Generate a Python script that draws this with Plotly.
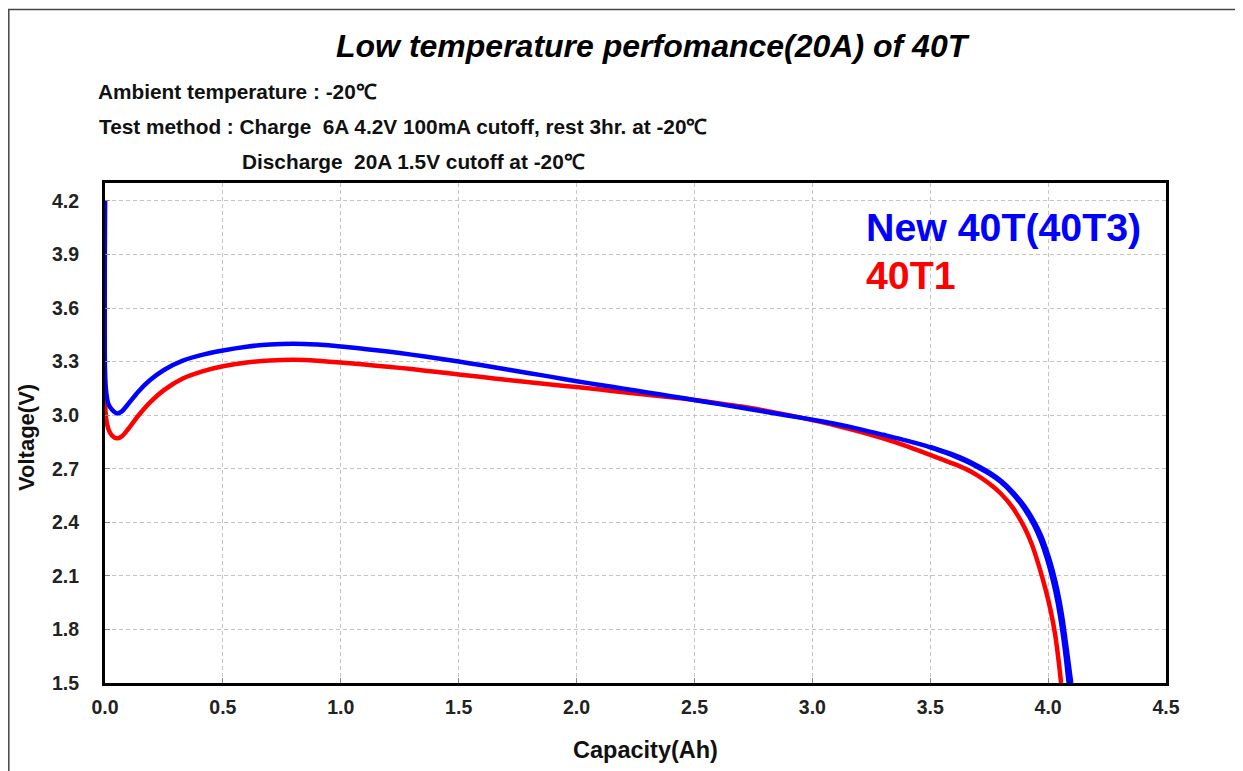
import plotly.graph_objects as go

# ---------------- data ----------------
blue_x = [0.0, 0.0, 0.005, 0.015, 0.03, 0.05, 0.07, 0.1, 0.14, 0.19, 0.25, 0.33, 0.42, 0.5,
          0.6, 0.7, 0.8, 0.9, 1.0, 1.1, 1.2, 1.3, 1.4, 1.5, 1.6, 1.7, 1.8, 1.9, 2.0,
          2.1, 2.2, 2.3, 2.4, 2.5, 2.6, 2.7, 2.8, 2.9, 3.0, 3.1, 3.2, 3.3, 3.4, 3.5,
          3.55, 3.6, 3.65, 3.7, 3.75, 3.8, 3.85, 3.9, 3.94, 3.97, 4.0, 4.02, 4.04, 4.06,
          4.075, 4.087]
blue_y = [4.2, 3.25, 3.13, 3.06, 3.03, 3.01, 3.02, 3.065, 3.13, 3.195, 3.253, 3.305, 3.34, 3.362,
          3.383, 3.396, 3.400, 3.395, 3.385, 3.371, 3.356, 3.339, 3.320, 3.300, 3.279, 3.257, 3.235, 3.213, 3.190,
          3.169, 3.148, 3.127, 3.106, 3.085, 3.063, 3.041, 3.019, 2.997, 2.975, 2.950, 2.922, 2.890, 2.857, 2.820,
          2.797, 2.772, 2.743, 2.710, 2.672, 2.625, 2.560, 2.475, 2.385, 2.295, 2.175, 2.075, 1.955, 1.795,
          1.645, 1.5]

# second blue sample (overlaps in the body, separates slightly in the tail)
blue2_x = [3.5, 3.55, 3.6, 3.65, 3.7, 3.75, 3.8, 3.85, 3.9, 3.94, 3.97, 4.0, 4.02, 4.04, 4.06, 4.08, 4.098]
blue2_y = [2.823, 2.80, 2.777, 2.75, 2.717, 2.68, 2.633, 2.57, 2.49, 2.405, 2.325, 2.215, 2.125, 2.015,
           1.87, 1.68, 1.5]

red_x = [0.0, 0.0, 0.005, 0.015, 0.03, 0.05, 0.07, 0.1, 0.14, 0.19, 0.25, 0.33, 0.42, 0.5,
         0.6, 0.7, 0.8, 0.9, 1.0, 1.1, 1.2, 1.3, 1.4, 1.5, 1.6, 1.7, 1.8, 1.9, 2.0,
         2.1, 2.2, 2.3, 2.4, 2.5, 2.6, 2.7, 2.8, 2.9, 3.0, 3.1, 3.2, 3.3, 3.4, 3.5,
         3.55, 3.6, 3.65, 3.7, 3.75, 3.8, 3.85, 3.9, 3.93, 3.96, 3.99, 4.01, 4.03, 4.045, 4.055]
red_y = [4.2, 3.1, 2.98, 2.92, 2.885, 2.87, 2.88, 2.925, 2.995, 3.07, 3.14, 3.205, 3.248, 3.274,
         3.295, 3.306, 3.310, 3.305, 3.295, 3.283, 3.271, 3.258, 3.243, 3.228, 3.213, 3.198, 3.184, 3.170, 3.157,
         3.143, 3.128, 3.114, 3.100, 3.085, 3.067, 3.048, 3.025, 3.000, 2.972, 2.942, 2.908, 2.870, 2.827, 2.777,
         2.752, 2.727, 2.699, 2.663, 2.617, 2.560, 2.482, 2.370, 2.280, 2.160, 2.020, 1.910, 1.770, 1.620, 1.5]

x_ticks = [0.0, 0.5, 1.0, 1.5, 2.0, 2.5, 3.0, 3.5, 4.0, 4.5]
y_ticks = [1.5, 1.8, 2.1, 2.4, 2.7, 3.0, 3.3, 3.6, 3.9, 4.2]

title_text = "Low temperature perfomance(20A) of 40T"
note_lines = ["Ambient temperature : -20℃",
              "Test method : Charge  6A 4.2V 100mA cutoff, rest 3hr. at -20℃",
              "Discharge  20A 1.5V cutoff at -20℃"]
series_names = ["New 40T(40T3)", "40T1"]

# ---------------- figure ----------------
OFF = 8                      # page body margin
W, H = 1243 - OFF, 771 - OFF
PL, PR, PT, PB = 105, 1166, 183, 683   # plot area in page pixels
FONT = "Arial, Liberation Sans, sans-serif"

def px(xp):
    return (xp - PL) / (PR - PL)

def py(yp):
    return (PB - yp) / (PB - PT)

fig = go.Figure()
line_style = dict(width=4.5, shape="spline", smoothing=0.8)
fig.add_trace(go.Scatter(x=red_x, y=red_y, mode="lines", name=series_names[1],
                         line=dict(color="#ff0000", **line_style)))
fig.add_trace(go.Scatter(x=blue2_x, y=blue2_y, mode="lines", showlegend=False,
                         line=dict(color="#0000ff", **line_style)))
fig.add_trace(go.Scatter(x=blue_x, y=blue_y, mode="lines", name=series_names[0],
                         line=dict(color="#0000ff", **line_style)))

axis_common = dict(showline=True, linecolor="black", linewidth=3, mirror=True,
                   showgrid=True, gridcolor="#c4c4c4", griddash="4px,3px", gridwidth=1,
                   ticks="inside", ticklen=5, tickcolor="#888888", zeroline=False,
                   tickfont=dict(family=FONT, size=19.5, color="#222", weight="bold"))

fig.update_xaxes(range=[0, 4.5], tickvals=x_ticks, ticktext=[f"{v:.1f}" for v in x_ticks],
                 ticklabelstandoff=5, **axis_common)
fig.update_yaxes(range=[1.5, 4.3], tickvals=y_ticks, ticktext=[f"{v:.1f}" for v in y_ticks],
                 ticklabelstandoff=19, **axis_common)

ann = []
ann.append(dict(text=f"<b><i>{title_text}</i></b>", x=px(653), y=py(46), xref="paper", yref="paper",
                showarrow=False, font=dict(family=FONT, size=32, color="black"),
                xanchor="center", yanchor="middle"))
for txt, xl, yc in zip(note_lines, [96, 97, 240], [91, 127, 162]):
    ann.append(dict(text=f"<b>{txt}</b>", x=px(xl), y=py(yc), xref="paper", yref="paper",
                    showarrow=False, font=dict(family=FONT, size=20.8, color="#111"),
                    xanchor="left", yanchor="middle"))
ann.append(dict(text=f"<b>{series_names[0]}</b>", x=px(864), y=py(227), xref="paper", yref="paper",
                showarrow=False, font=dict(family=FONT, size=39.3, color="#0000ff"),
                xanchor="left", yanchor="middle"))
ann.append(dict(text=f"<b>{series_names[1]}</b>", x=px(864), y=py(275), xref="paper", yref="paper",
                showarrow=False, font=dict(family=FONT, size=39.3, color="#ff0000"),
                xanchor="left", yanchor="middle"))
ann.append(dict(text="<b>Capacity(Ah)</b>", x=px(645), y=py(750), xref="paper", yref="paper",
                showarrow=False, font=dict(family=FONT, size=23.5, color="#111"),
                xanchor="center", yanchor="middle"))
ann.append(dict(text="<b>Voltage(V)</b>", x=px(26), y=py(438), xref="paper", yref="paper",
                showarrow=False, font=dict(family=FONT, size=22, color="#111"), textangle=-90,
                xanchor="center", yanchor="middle"))

fig.update_layout(
    width=W, height=H,
    margin=dict(l=PL - OFF, r=W - (PR - OFF), t=PT - OFF, b=H - (PB - OFF), pad=0),
    paper_bgcolor="white", plot_bgcolor="white",
    showlegend=False,
    annotations=ann,
    shapes=[dict(type="rect", xref="paper", yref="paper",
                 x0=px(OFF + 0.8), x1=px(1300), y0=py(820), y1=py(9.5),
                 line=dict(color="#444", width=1.5), layer="below")],
)

fig.write_html("out.html")
